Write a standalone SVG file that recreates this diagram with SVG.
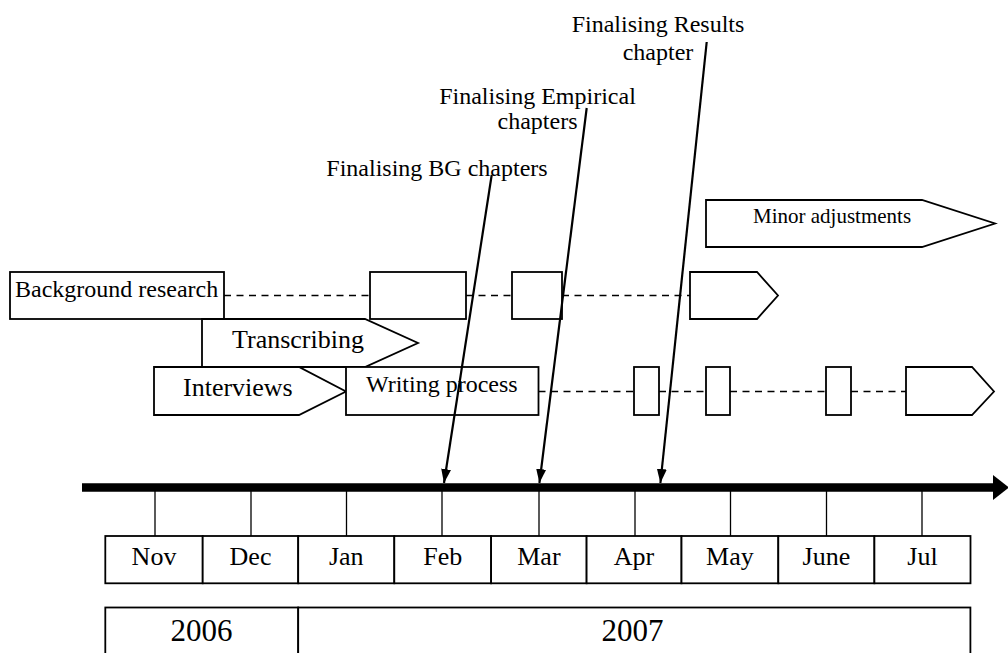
<svg xmlns="http://www.w3.org/2000/svg" width="1008" height="653" viewBox="0 0 1008 653">
  <style>
    .box { fill: #ffffff; stroke: #000000; stroke-width: 1.8; }
    .dash { fill: none; stroke: #000000; stroke-width: 1.6; stroke-dasharray: 7 5.5; }
    .tick { stroke: #000000; stroke-width: 1.3; }
    .ptr { stroke: #000000; stroke-width: 2.2; fill: none; }
    text { font-family: "Liberation Serif", "Times New Roman", serif; fill: #000000; }
    .t24 { font-size: 24px; }
    .t26 { font-size: 26px; }
    .t21 { font-size: 21px; }
    .mon { font-size: 26px; text-anchor: middle; }
    .yr { font-size: 31px; text-anchor: middle; }
    .mid { text-anchor: middle; }
  </style>
  <defs>
    <marker id="tip" markerUnits="userSpaceOnUse" markerWidth="15" markerHeight="11" refX="14" refY="5" orient="auto">
      <path d="M0,0 L14,5 L0,10 z" fill="#000000"/>
    </marker>
  </defs>

  <!-- Row 1: background research phase -->
  <g id="bg-research">
    <rect class="box" x="10" y="272" width="214" height="47"/>
    <text class="t24" x="15" y="297">Background research</text>
  </g>
  <g id="bg-block-2">
    <rect class="box" x="370" y="272" width="96" height="47"/>
  </g>
  <g id="bg-block-3">
    <rect class="box" x="512" y="272" width="50" height="47"/>
  </g>
  <g id="bg-block-4">
    <polygon class="box" points="690,272 757,272 778,295.5 757,319 690,319"/>
  </g>

  <!-- Row 0: minor adjustments -->
  <g id="minor-adjustments">
    <polygon class="box" points="706,200 922,200 995,223.5 922,247 706,247"/>
    <text class="t21" x="753" y="223">Minor adjustments</text>
  </g>

  <!-- Row 2: transcribing -->
  <g id="transcribing">
    <polygon class="box" points="202,319 365,319 418,343 365,367 202,367"/>
    <text class="t26" x="232" y="348">Transcribing</text>
  </g>

  <!-- Row 3: interviews and writing -->
  <g id="interviews">
    <polygon class="box" points="154,367 299,367 346,391.5 299,415 154,415"/>
    <text class="t26" x="183" y="396">Interviews</text>
  </g>
  <g id="writing-process">
    <rect class="box" x="346" y="367" width="192.5" height="48"/>
    <text class="t24" x="366" y="392">Writing process</text>
  </g>
  <g id="writing-block-2">
    <rect class="box" x="634" y="367" width="25" height="48"/>
  </g>
  <g id="writing-block-3">
    <rect class="box" x="706" y="367" width="24" height="48"/>
  </g>
  <g id="writing-block-4">
    <rect class="box" x="826" y="367" width="25" height="48"/>
  </g>
  <g id="writing-block-5">
    <polygon class="box" points="906,367 972,367 994,391.5 972,415 906,415"/>
  </g>

  <!-- Milestone labels -->
  <g id="ms-bg">
    <text class="t24 mid" x="437" y="176">Finalising BG chapters</text>
  </g>
  <g id="ms-empirical">
    <text class="t24 mid" x="537.5" y="104">Finalising Empirical</text>
    <text class="t24 mid" x="537.5" y="129">chapters</text>
  </g>
  <g id="ms-results">
    <text class="t24 mid" x="658" y="32">Finalising Results</text>
    <text class="t24 mid" x="658" y="60">chapter</text>
  </g>

  <!-- Time axis -->
  <g id="axis">
    <line x1="82" y1="487.5" x2="995" y2="487.5" stroke="#000000" stroke-width="8.5"/>
    <polygon points="993,475 1009,487.5 993,500" fill="#000000"/>
  </g>

  <!-- Month scale -->
  <g id="months">
    <line class="tick" x1="155" y1="491" x2="155" y2="536"/>
    <line class="tick" x1="251" y1="491" x2="251" y2="536"/>
    <line class="tick" x1="346.5" y1="491" x2="346.5" y2="536"/>
    <line class="tick" x1="442" y1="491" x2="442" y2="536"/>
    <line class="tick" x1="539" y1="491" x2="539" y2="536"/>
    <line class="tick" x1="635" y1="491" x2="635" y2="536"/>
    <line class="tick" x1="730.5" y1="491" x2="730.5" y2="536"/>
    <line class="tick" x1="826.5" y1="491" x2="826.5" y2="536"/>
    <line class="tick" x1="922" y1="491" x2="922" y2="536"/>
    <rect class="box" x="105.3" y="536" width="97.4" height="47.3"/>
    <rect class="box" x="202.7" y="536" width="95.5" height="47.3"/>
    <rect class="box" x="298.2" y="536" width="96.1" height="47.3"/>
    <rect class="box" x="394.3" y="536" width="96.8" height="47.3"/>
    <rect class="box" x="491.1" y="536" width="95.5" height="47.3"/>
    <rect class="box" x="586.6" y="536" width="94.9" height="47.3"/>
    <rect class="box" x="681.5" y="536" width="96.8" height="47.3"/>
    <rect class="box" x="778.3" y="536" width="96.1" height="47.3"/>
    <rect class="box" x="874.4" y="536" width="96.1" height="47.3"/>
    <text class="mon" x="154" y="565">Nov</text>
    <text class="mon" x="250.5" y="565">Dec</text>
    <text class="mon" x="346.3" y="565">Jan</text>
    <text class="mon" x="442.7" y="565">Feb</text>
    <text class="mon" x="538.9" y="565">Mar</text>
    <text class="mon" x="634" y="565">Apr</text>
    <text class="mon" x="729.9" y="565">May</text>
    <text class="mon" x="826.4" y="565">June</text>
    <text class="mon" x="922.5" y="565">Jul</text>
  </g>

  <!-- Year scale -->
  <g id="years">
    <rect class="box" x="105.3" y="607.5" width="192.9" height="70"/>
    <rect class="box" x="298.2" y="607.5" width="672.2" height="70"/>
    <text class="yr" x="201.5" y="641">2006</text>
    <text class="yr" x="632.5" y="641">2007</text>
  </g>

  <!-- Connectors -->
  <g id="connectors">
    <line class="dash" x1="224" y1="295.5" x2="370" y2="295.5"/>
    <line class="dash" x1="466" y1="295.5" x2="512" y2="295.5"/>
    <line class="dash" x1="562" y1="295.5" x2="690" y2="295.5"/>
    <line class="dash" x1="538.5" y1="391.5" x2="634" y2="391.5"/>
    <line class="dash" x1="659" y1="391.5" x2="706" y2="391.5"/>
    <line class="dash" x1="730" y1="391.5" x2="826" y2="391.5"/>
    <line class="dash" x1="851" y1="391.5" x2="906" y2="391.5"/>
    <line class="ptr" x1="491.7" y1="175" x2="444" y2="483" marker-end="url(#tip)"/>
    <line class="ptr" x1="586.7" y1="108" x2="539.4" y2="483" marker-end="url(#tip)"/>
    <line class="ptr" x1="706.7" y1="42" x2="660.4" y2="483" marker-end="url(#tip)"/>
  </g>
</svg>
